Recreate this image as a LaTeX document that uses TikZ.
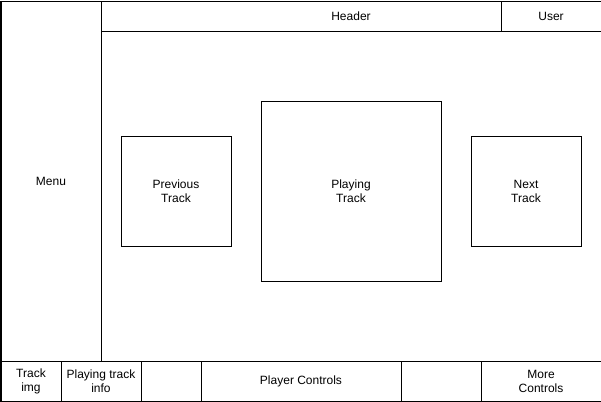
\documentclass[tikz,border=0pt]{standalone}
\usepackage{fontspec}
\setmainfont{Liberation Sans}
\begin{document}
\begin{tikzpicture}[x=1bp,y=-1bp,
    panel/.style={draw,line width=1bp,anchor=north west,inner sep=0pt,
      align=center,font=\fontsize{12bp}{14bp}\selectfont}]
    \useasboundingbox (-0.5,-0.5) rectangle (600.5,400.5);

    % side menu and top bar
    \node[panel,minimum width=100bp,minimum height=360bp] (menu) at (0,0) {Menu};
    \node[panel,minimum width=500bp,minimum height=30bp] (header) at (100,0) {Header};
    \node[panel,fill=white,minimum width=100bp,minimum height=30bp] (user) at (500,0) {User};

    % main area
    \node[panel,minimum width=500bp,minimum height=330bp] (content) at (100,30) {};
    \node[panel,minimum width=110bp,minimum height=110bp] (prev) at (120,135) {Previous\\Track};
    \node[panel,minimum width=180bp,minimum height=180bp] (playing) at (260,100) {Playing\\Track};
    \node[panel,minimum width=110bp,minimum height=110bp] (next) at (470,135) {Next\\Track};

    % bottom bar
    \node[panel,minimum width=60bp,minimum height=40bp] (trackimg) at (0,360) {Track\\img};
    \node[panel,minimum width=80bp,minimum height=40bp] (trackinfo) at (60,360) {Playing track\\info};
    \node[panel,minimum width=60bp,minimum height=40bp] (gapleft) at (140,360) {};
    \node[panel,minimum width=200bp,minimum height=40bp] (controls) at (200,360) {Player Controls};
    \node[panel,minimum width=80bp,minimum height=40bp] (gapright) at (400,360) {};
    \node[panel,minimum width=120bp,minimum height=40bp] (more) at (480,360) {More\\Controls};
\end{tikzpicture}
\end{document}
